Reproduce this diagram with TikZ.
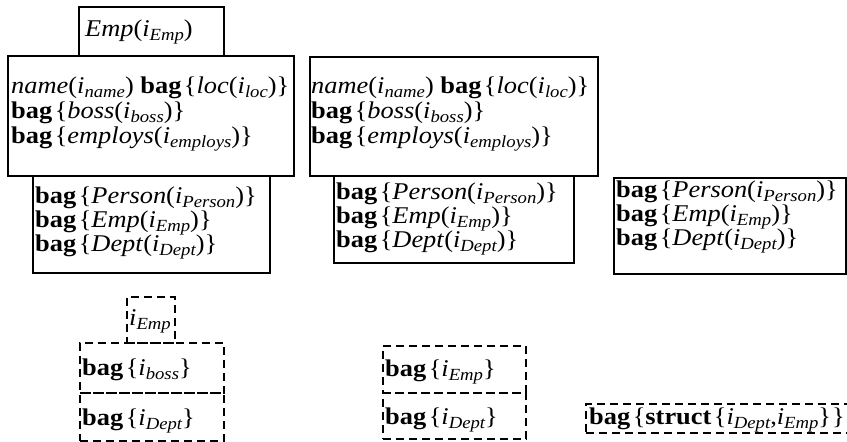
\documentclass[tikz,border=0pt]{standalone}
\usepackage{fontspec}
\setmainfont{Liberation Serif}[FakeStretch=1.1]
% index variable i with a lowered, smaller italic tag
\newcommand\subi[1]{\textit{i}\raisebox{-0.2em}{\fontsize{17}{17}\selectfont\itshape #1}}
\newcommand\bagkw{\textbf{bag}\kern2.5pt}
\begin{document}
\begin{tikzpicture}[x=1pt,y=1pt,
  solidbox/.style={draw, line width=1.6pt, inner sep=0, anchor=north west},
  dashbox/.style={draw, line width=1.6pt, dash pattern=on 8pt off 5pt, inner sep=0, anchor=north west},
  txt/.style={anchor=base west, inner sep=0, text height=12pt, text depth=3pt,
    font=\fontsize{24}{24}\selectfont}]
\useasboundingbox (0,0) rectangle (847,-442);

% left column: object layout
\node[solidbox, minimum width=145, minimum height=49] (tabL) at (78,-6) {};
\node[solidbox, minimum width=286, minimum height=120] (bigL) at (7,-55) {};
\node[solidbox, minimum width=237, minimum height=97] (setL) at (32,-175) {};
\node[txt] (tEmp) at (85,-36) {\textit{Emp}(\subi{Emp})};
\node[txt] (l1) at (11,-93) {\textit{name}(\subi{name}) \bagkw\{\textit{loc}(\subi{loc})\}};
\node[txt] (l2) at (11,-118) {\bagkw\{\textit{boss}(\subi{boss})\}};
\node[txt] (l3) at (11,-143) {\bagkw\{\textit{employs}(\subi{employs})\}};
\node[txt] (l4) at (35,-203) {\bagkw\{\textit{Person}(\subi{Person})\}};
\node[txt] (l5) at (35,-227) {\bagkw\{\textit{Emp}(\subi{Emp})\}};
\node[txt] (l6) at (35,-251) {\bagkw\{\textit{Dept}(\subi{Dept})\}};

% middle column
\node[solidbox, minimum width=288, minimum height=119] (bigM) at (309,-56) {};
\node[solidbox, minimum width=240, minimum height=87] (setM) at (333,-175) {};
\node[txt] (m1) at (311,-93) {\textit{name}(\subi{name}) \bagkw\{\textit{loc}(\subi{loc})\}};
\node[txt] (m2) at (311,-118) {\bagkw\{\textit{boss}(\subi{boss})\}};
\node[txt] (m3) at (311,-143) {\bagkw\{\textit{employs}(\subi{employs})\}};
\node[txt] (m4) at (336,-199) {\bagkw\{\textit{Person}(\subi{Person})\}};
\node[txt] (m5) at (336,-223) {\bagkw\{\textit{Emp}(\subi{Emp})\}};
\node[txt] (m6) at (336,-247) {\bagkw\{\textit{Dept}(\subi{Dept})\}};

% right column
\node[solidbox, minimum width=232, minimum height=96] (setR) at (613,-177) {};
\node[txt] (r4) at (616,-197) {\bagkw\{\textit{Person}(\subi{Person})\}};
\node[txt] (r5) at (616,-221) {\bagkw\{\textit{Emp}(\subi{Emp})\}};
\node[txt] (r6) at (616,-245) {\bagkw\{\textit{Dept}(\subi{Dept})\}};

% dashed index layouts
\node[dashbox, minimum width=48, minimum height=46] (ixL) at (126,-296) {};
\node[dashbox, minimum width=144, minimum height=50] (bossL) at (79,-342) {};
\node[dashbox, minimum width=144, minimum height=48] (deptL) at (79,-392) {};
\node[txt] (d0) at (129,-325) {\subi{Emp}};
\node[txt] (d1) at (82,-375) {\bagkw\{\subi{boss}\}};
\node[txt] (d2) at (82,-425) {\bagkw\{\subi{Dept}\}};

\node[dashbox, minimum width=143, minimum height=47] (empM) at (382,-345) {};
\node[dashbox, minimum width=143, minimum height=46] (deptM) at (382,-392) {};
\node[txt] (e1) at (385,-376) {\bagkw\{\subi{Emp}\}};
\node[txt] (e2) at (385,-424) {\bagkw\{\subi{Dept}\}};

\begin{scope}
\clip (0,0) rectangle (847,-442);
\node[dashbox, minimum width=268, minimum height=29] (structR) at (585,-403) {};
\end{scope}
\node[txt] (s1) at (589,-424) {\bagkw\{\textbf{struct}\kern2.5pt\{\subi{Dept},\subi{Emp}\}\kern1pt\}};
\end{tikzpicture}
\end{document}
